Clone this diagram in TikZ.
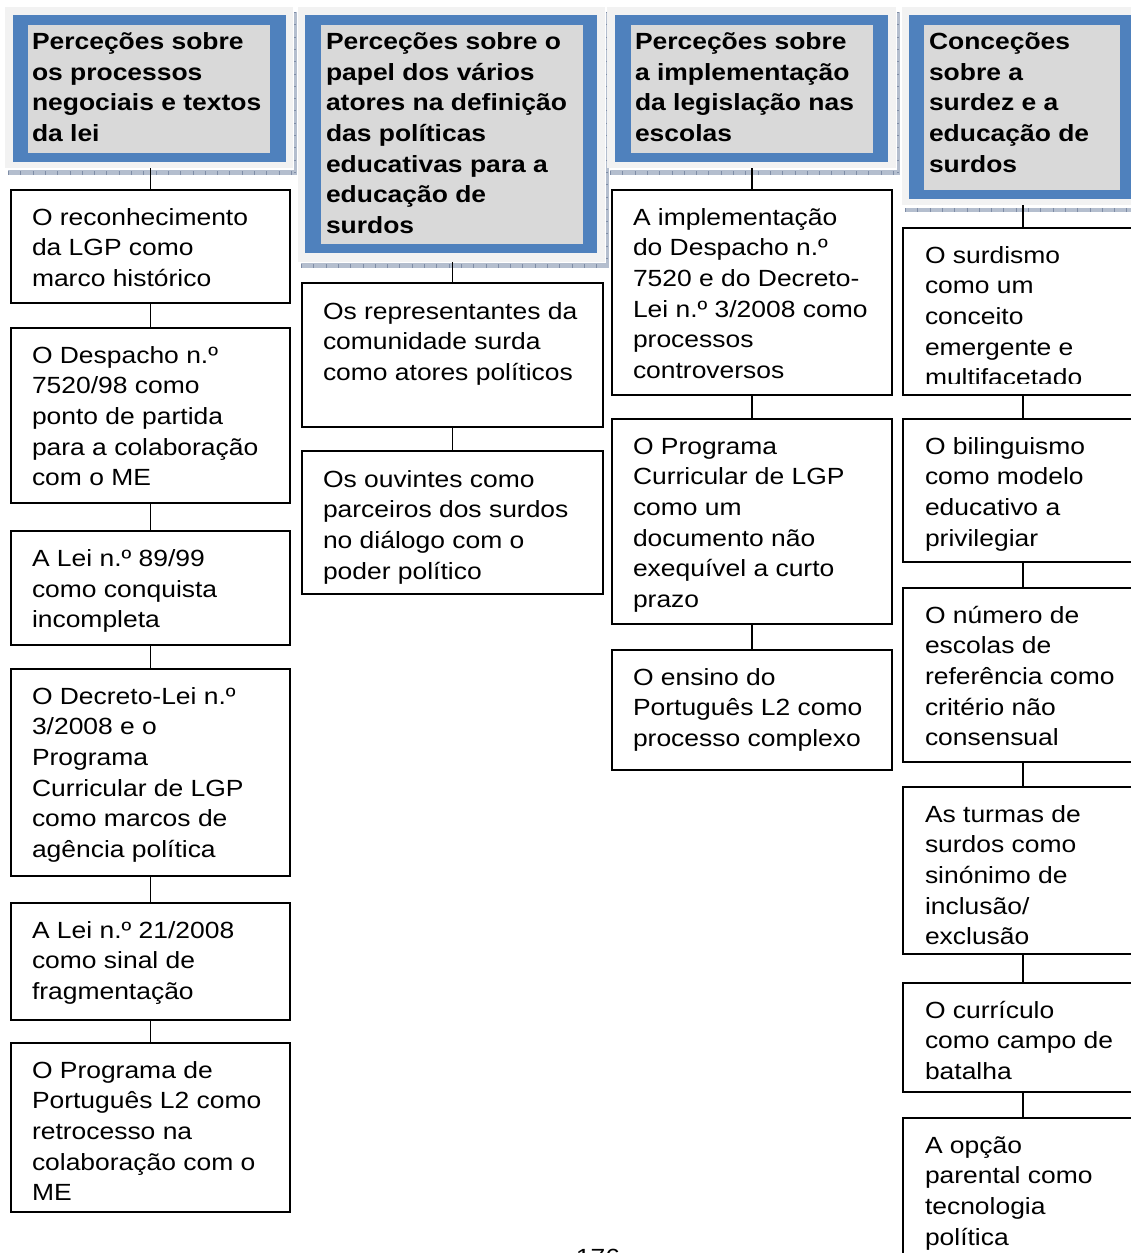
\documentclass[tikz,border=0pt]{standalone}
\usepackage{fontspec}
\newfontfamily\bodyf[FakeStretch=1.13]{Liberation Sans}
\newcommand\boxlines[1]{\parbox[t]{400pt}{\raggedright\bodyf\fontsize{23.4}{30.7}\selectfont #1}}
\newcommand\headlines[1]{\parbox[t]{400pt}{\raggedright\bodyf\bfseries\fontsize{23.4}{30.7}\selectfont #1}}
\definecolor{hdrout}{HTML}{F2F2F2}
\definecolor{hdrblue}{HTML}{4F81BD}
\definecolor{hdrgray}{HTML}{D9D9D9}
\definecolor{shadc}{HTML}{B4BECE}
\definecolor{tickc}{HTML}{7F8DA6}
\begin{document}
\begin{tikzpicture}[x=1pt,y=-1pt,
  box/.style={draw=black, line width=1.5pt, fill=white, inner sep=0pt, outer sep=0pt, anchor=north west},
  txt/.style={inner sep=0pt, outer sep=0pt, anchor=base west},
  hout/.style={fill=hdrout, inner sep=0pt, outer sep=0pt, anchor=north west},
  hbl/.style={fill=hdrblue, inner sep=0pt, outer sep=0pt, anchor=north west},
  hgr/.style={fill=hdrgray, inner sep=0pt, outer sep=0pt, anchor=north west},
  link/.style={draw=black, line width=1.5pt},
  shadeband/.style={fill=shadc},
  ticksh/.style={draw=tickc, line width=4pt, dash pattern=on 0.8pt off 11.5pt},
  ticksv/.style={draw=tickc, line width=2.5pt, dash pattern=on 0.8pt off 11.5pt}]
\useasboundingbox[fill=white] (0,0) rectangle (1131,1253);

% ---------- header shadows ----------
\fill[shadeband] (8,170) rectangle (296,175);
\fill[shadeband] (293.5,12) rectangle (296.5,175);
\draw[ticksh] (8,172.5) -- (296,172.5);
\draw[ticksv] (295,12) -- (295,175);
\fill[shadeband] (301,263) rectangle (608,268);
\fill[shadeband] (605.5,12) rectangle (608.5,268);
\draw[ticksh] (301,265.5) -- (608,265.5);
\draw[ticksv] (607,12) -- (607,268);
\fill[shadeband] (610,170) rectangle (899,175);
\fill[shadeband] (896.5,12) rectangle (899.5,175);
\draw[ticksh] (610,172.5) -- (899,172.5);
\draw[ticksv] (898,12) -- (898,175);
\fill[shadeband] (905,208) rectangle (1146,212);
\draw[ticksh] (905,210) -- (1146,210);

% ---------- headers ----------
\node[hout, minimum width=288, minimum height=161] (h1) at (5,7) {};
\node[hbl, minimum width=273, minimum height=147] (h1b) at (13,15) {};
\node[hgr, minimum width=242, minimum height=128] (h1g) at (28,25) {};
\node[txt] (h1t) at (32,49.3) {\headlines{Perceções sobre\\os processos\\negociais e textos\\da lei}};

\node[hout, minimum width=307, minimum height=255] (h2) at (298,7) {};
\node[hbl, minimum width=292, minimum height=238] (h2b) at (305,15) {};
\node[hgr, minimum width=262, minimum height=219] (h2g) at (321,25) {};
\node[txt] (h2t) at (326,49.3) {\headlines{Perceções sobre o\\papel dos vários\\atores na definição\\das políticas\\educativas para a\\educação de\\surdos}};

\node[hout, minimum width=289, minimum height=161] (h3) at (607,7) {};
\node[hbl, minimum width=273, minimum height=147] (h3b) at (615,15) {};
\node[hgr, minimum width=242, minimum height=128] (h3g) at (631,25) {};
\node[txt] (h3t) at (635,49.3) {\headlines{Perceções sobre\\a implementação\\da legislação nas\\escolas}};

\node[hout, minimum width=241, minimum height=198] (h4) at (902,7) {};
\node[hbl, minimum width=227, minimum height=184] (h4b) at (909,15) {};
\node[hgr, minimum width=196, minimum height=165] (h4g) at (924,25) {};
\node[txt] (h4t) at (929,49.3) {\headlines{Conceções\\sobre a\\surdez e a\\educação de\\surdos}};

% ---------- column 1 ----------
\node[box, minimum width=279, minimum height=113] (b11) at (11,190) {};
\node[box, minimum width=279, minimum height=175] (b12) at (11,328) {};
\node[box, minimum width=279, minimum height=114] (b13) at (11,531) {};
\node[box, minimum width=279, minimum height=207] (b14) at (11,669) {};
\node[box, minimum width=279, minimum height=117] (b15) at (11,903) {};
\node[box, minimum width=279, minimum height=169] (b16) at (11,1043) {};
\node[txt] (t11) at (32,225) {\boxlines{O reconhecimento\\da LGP como\\marco histórico}};
\node[txt] (t12) at (32,363) {\boxlines{O Despacho n.º\\7520/98 como\\ponto de partida\\para a colaboração\\com o ME}};
\node[txt] (t13) at (32,566.5) {\boxlines{A Lei n.º 89/99\\como conquista\\incompleta}};
\node[txt] (t14) at (32,704) {\boxlines{O Decreto-Lei n.º\\3/2008 e o\\Programa\\Curricular de LGP\\como marcos de\\agência política}};
\node[txt] (t15) at (32,938) {\boxlines{A Lei n.º 21/2008\\como sinal de\\fragmentação}};
\node[txt] (t16) at (32,1078) {\boxlines{O Programa de\\Português L2 como\\retrocesso na\\colaboração com o\\ME}};

% ---------- column 2 ----------
\node[box, minimum width=301, minimum height=144] (b21) at (302,283) {};
\node[box, minimum width=301, minimum height=143] (b22) at (302,451) {};
\node[txt] (t21) at (323,319) {\boxlines{Os representantes da\\comunidade surda\\como atores políticos}};
\node[txt] (t22) at (323,487) {\boxlines{Os ouvintes como\\parceiros dos surdos\\no diálogo com o\\poder político}};

% ---------- column 3 ----------
\node[box, minimum width=280, minimum height=205] (b31) at (612,190) {};
\node[box, minimum width=280, minimum height=205] (b32) at (612,419) {};
\node[box, minimum width=280, minimum height=120] (b33) at (612,650) {};
\node[txt] (t31) at (633,225) {\boxlines{A implementação\\do Despacho n.º\\7520 e do Decreto-\\Lei n.º 3/2008 como\\processos\\controversos}};
\node[txt] (t32) at (633,454) {\boxlines{O Programa\\Curricular de LGP\\como um\\documento não\\exequível a curto\\prazo}};
\node[txt] (t33) at (633,685) {\boxlines{O ensino do\\Português L2 como\\processo complexo}};

% ---------- column 4 ----------
\node[box, minimum width=240, minimum height=167] (b41) at (903,228) {};
\node[box, minimum width=240, minimum height=143] (b42) at (903,419) {};
\node[box, minimum width=240, minimum height=174] (b43) at (903,588) {};
\node[box, minimum width=240, minimum height=167] (b44) at (903,787) {};
\node[box, minimum width=240, minimum height=109] (b45) at (903,983) {};
\node[box, minimum width=240, minimum height=200] (b46) at (903,1118) {};
\begin{scope}
\clip (904,229) rectangle (1142,383);
\node[txt] (t41) at (925,263) {\boxlines{O surdismo\\como um\\conceito\\emergente e\\multifacetado}};
\end{scope}
\node[txt] (t42) at (925,454) {\boxlines{O bilinguismo\\como modelo\\educativo a\\privilegiar}};
\node[txt] (t43) at (925,623) {\boxlines{O número de\\escolas de\\referência como\\critério não\\consensual}};
\node[txt] (t44) at (925,822) {\boxlines{As turmas de\\surdos como\\sinónimo de\\inclusão/\\exclusão}};
\node[txt] (t45) at (925,1018) {\boxlines{O currículo\\como campo de\\batalha}};
\node[txt] (t46) at (925,1153) {\boxlines{A opção\\parental como\\tecnologia\\política}};

% ---------- connectors ----------
\draw[link] (b11.north) -- (b11.north |- h1.south);
\draw[link] (b11) -- (b12);
\draw[link] (b12) -- (b13);
\draw[link] (b13) -- (b14);
\draw[link] (b14) -- (b15);
\draw[link] (b15) -- (b16);
\draw[link] (b21.north) -- (b21.north |- h2.south);
\draw[link] (b21) -- (b22);
\draw[link] (b31.north) -- (b31.north |- h3.south);
\draw[link] (b31) -- (b32);
\draw[link] (b32) -- (b33);
\draw[link] (b41.north) -- (b41.north |- h4.south);
\draw[link] (b41) -- (b42);
\draw[link] (b42) -- (b43);
\draw[link] (b43) -- (b44);
\draw[link] (b44) -- (b45);
\draw[link] (b45) -- (b46);

% ---------- page number (cut by page edge) ----------
\node[inner sep=0pt, anchor=base] (pg) at (598,1265) {\bodyf\fontsize{23.4}{30.7}\selectfont 176};
\end{tikzpicture}
\end{document}
